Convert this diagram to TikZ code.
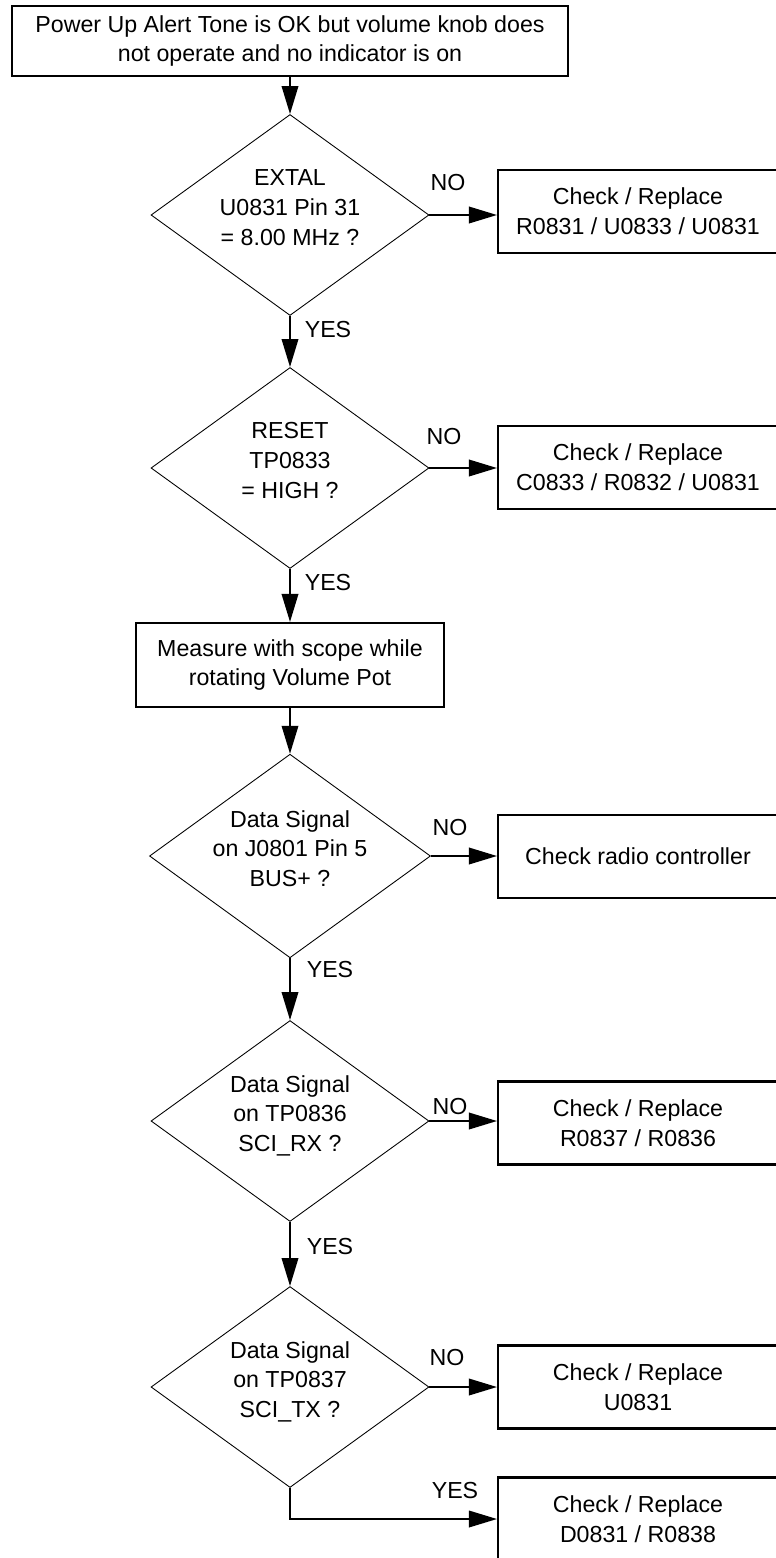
\documentclass[tikz,border=0pt]{standalone}
\usepackage{fontspec}
\setmainfont{Liberation Sans}
\usetikzlibrary{arrows.meta,shapes.geometric}

\begin{document}
\begin{tikzpicture}[x=0.02cm, y=-0.02cm,
  every node/.style={font=\fontsize{13.2pt}{17pt}\selectfont, align=center},
  stepbox/.style={draw, line width=1.2pt, inner sep=0pt},
  fixbox/.style={stepbox, minimum width=5.6cm, minimum height=1.66cm},
  decision/.style={draw, diamond, line width=0.5pt, inner sep=0pt, shape aspect=1.38,
    minimum width=5.56cm, minimum height=4.02cm, text depth=8.5pt},
  flow/.style={line width=1.1pt, -{Triangle[length=5.6mm, width=3.3mm]}}]
\useasboundingbox (0,0) rectangle (775,1558);

% main column
\node[stepbox, minimum width=11.12cm, minimum height=1.4cm] (start) at (290,41)
  {Power Up Alert Tone is OK but volume knob does\\not operate and no indicator is on};
\node[decision] (d1) at (290,215) {EXTAL\\U0831 Pin 31\\= 8.00 MHz ?};
\node[decision] (d2) at (290,468) {RESET\\TP0833\\= HIGH ?};
\node[stepbox, minimum width=6.16cm, minimum height=1.68cm] (scope) at (290,665)
  {Measure with scope while\\rotating Volume Pot};
\node[decision] (d3) at (290,856) {Data Signal\\on J0801 Pin 5\\BUS+ ?};
\node[decision] (d4) at (290,1121) {Data Signal\\on TP0836\\SCI\_RX ?};
\node[decision] (d5) at (290,1387) {Data Signal\\on TP0837\\SCI\_TX ?};

% repair boxes
\node[fixbox] (r1) at (638,211.5) {Check / Replace\\R0831 / U0833 / U0831};
\node[fixbox] (r2) at (638,467.5) {Check / Replace\\C0833 / R0832 / U0831};
\node[fixbox] (r3) at (638,856.5) {Check radio controller};
\node[fixbox] (r4) at (638,1123) {Check / Replace\\R0837 / R0836};
\node[fixbox] (r5) at (638,1387) {Check / Replace\\U0831};
\node[fixbox] (r6) at (638,1519) {Check / Replace\\D0831 / R0838};

% YES path
\draw[flow] (start) -- (d1);
\draw[flow] (d1) -- (d2);
\draw[flow] (d2) -- (scope);
\draw[flow] (scope) -- (d3);
\draw[flow] (d3) -- (d4);
\draw[flow] (d4) -- (d5);
\draw[flow] (d5.south) |- (r6.west);

% NO path
\draw[flow] (d1.east) -- (d1.east -| r1.west);
\draw[flow] (d2.east) -- (d2.east -| r2.west);
\draw[flow] (d3.east) -- (d3.east -| r3.west);
\draw[flow] (d4.east) -- (d4.east -| r4.west);
\draw[flow] (d5.east) -- (d5.east -| r5.west);

\node (no1) at (448,183) {NO};
\node (no2) at (444,437) {NO};
\node (no3) at (450,828) {NO};
\node (no4) at (450,1107) {NO};
\node (no5) at (447,1357) {NO};

\node (yes1) at (328,330) {YES};
\node (yes2) at (328,583) {YES};
\node (yes3) at (330,970) {YES};
\node (yes4) at (330,1247) {YES};
\node (yes5) at (455,1490) {YES};
\end{tikzpicture}
\end{document}
